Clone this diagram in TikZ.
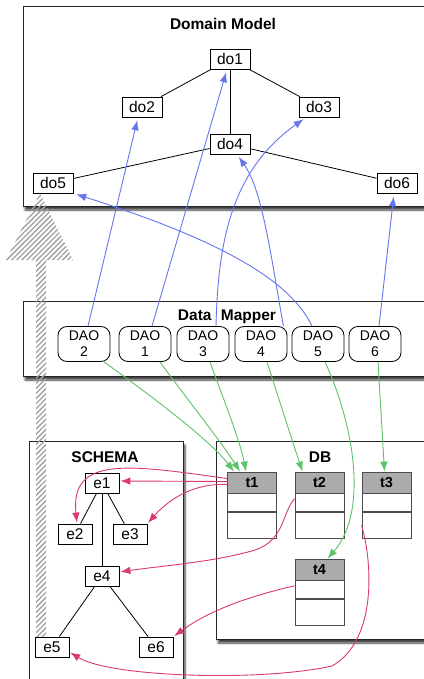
\documentclass[tikz,border=0pt]{standalone}
\usepackage{fontspec}
\setmainfont{Liberation Sans}
\usepackage{xcolor}
\usetikzlibrary{arrows.meta,patterns.meta,positioning,shadows.blur}

\definecolor{mapblue}{RGB}{100,118,238}
\definecolor{mapgreen}{RGB}{94,194,104}
\definecolor{mapred}{RGB}{218,58,108}

\tikzset{
  layer/.style={draw=black!85, fill=white, line width=1pt,
    blur shadow={shadow blur steps=6, shadow xshift=2pt, shadow yshift=-4pt, shadow opacity=75}},
  title/.style={font=\fontsize{15.5}{18}\selectfont\bfseries},
  dobox/.style={draw, fill=white, line width=0.8pt, minimum width=40pt, minimum height=20pt,
    inner sep=0pt, font=\fontsize{15.5}{17}\selectfont},
  ebox/.style={dobox, minimum width=34pt},
  daobox/.style={draw, fill=white, line width=0.8pt, rounded corners=9pt, minimum width=52pt,
    minimum height=35pt, inner sep=0pt, align=center, font=\fontsize{14}{16}\selectfont},
  tabhead/.style={draw=black!70, fill=black!33, line width=0.8pt, minimum width=49pt,
    minimum height=21pt, inner sep=0pt, font=\fontsize{14.5}{16}\selectfont\bfseries},
  tabrow/.style={draw=black!70, fill=white, line width=0.8pt, minimum width=49pt, inner sep=0pt},
  tomodel/.style={draw=mapblue, line width=0.9pt, shorten >=3pt, -{Latex[length=10pt,width=7.5pt]}},
  totable/.style={draw=mapgreen, line width=0.9pt, -{Latex[length=10pt,width=7.5pt]}},
  toschema/.style={draw=mapred, line width=0.9pt, shorten >=1pt, -{Latex[length=10pt,width=7.5pt]}}
}

\begin{document}
\begin{tikzpicture}[x=1pt,y=-1pt]

\useasboundingbox (0,0) rectangle (423,679);

% Layers
\draw[layer] (23,7) rectangle (445,206);
\draw[layer] (23,301) rectangle (445,376);
\draw[layer] (29,441) rectangle (183,700);
\draw[layer] (216,441) rectangle (445,639);

% Hatched arrow
\fill[pattern={Lines[angle=45, distance=3.6pt, line width=1.3pt]}, pattern color=gray!75]
  (36,637) -- (36,260) -- (6,260) -- (40,193) -- (73,260) -- (46,260) -- (46,637) -- cycle;

% Domain Model
\node[title] (dmtitle) at (223,24) {Domain Model};
\node[dobox] (do1) at (230,59) {do1};
\node[dobox] (do2) at (142,107) {do2};
\node[dobox] (do3) at (319,107) {do3};
\node[dobox] (do4) at (230,144) {do4};
\node[dobox] (do5) at (53,183) {do5};
\node[dobox] (do6) at (397,183) {do6};
\draw[line width=0.8pt] (do1) -- (do2);
\draw[line width=0.8pt] (do1) -- (do3);
\draw[line width=0.8pt] (do1) -- (do4);
\draw[line width=0.8pt] (do4) -- (do5);
\draw[line width=0.8pt] (do4) -- (do6);

% Data Mapper
\node[title] (dmaptitle) at (227,317) {Data\hspace{0.6em}Mapper};
\node[daobox] (dao2) at (84,344) {DAO\\2};
\node[daobox] (dao1) at (145,344) {DAO\\1};
\node[daobox] (dao3) at (203,344) {DAO\\3};
\node[daobox] (dao4) at (261,344) {DAO\\4};
\node[daobox] (dao5) at (318,344) {DAO\\5};
\node[daobox] (dao6) at (375,344) {DAO\\6};

% Schema
\node[title] (schtitle) at (105,457) {SCHEMA};
\node[ebox] (e1) at (102,483) {e1};
\node[ebox] (e2) at (75,534) {e2};
\node[ebox] (e3) at (130,534) {e3};
\node[ebox] (e4) at (102,576) {e4};
\node[ebox] (e5) at (52,647) {e5};
\node[ebox] (e6) at (156,647) {e6};
\draw[line width=0.8pt] (e1) -- (e2);
\draw[line width=0.8pt] (e1) -- (e3);
\draw[line width=0.8pt] (e1) -- (e4);
\draw[line width=0.8pt] (e4) -- (e5);
\draw[line width=0.8pt] (e4) -- (e6);

% DB tables
\node[title] (dbtitle) at (320,457) {DB};
\node[tabhead] (t1) at (252,482.5) {t1};
\node[tabrow, minimum height=18pt, below=0pt of t1] (t1a) {};
\node[tabrow, minimum height=26pt, below=0pt of t1a] (t1b) {};
\node[tabhead] (t2) at (319.5,482.5) {t2};
\node[tabrow, minimum height=18pt, below=0pt of t2] (t2a) {};
\node[tabrow, minimum height=26pt, below=0pt of t2a] (t2b) {};
\node[tabhead] (t3) at (386.5,482.5) {t3};
\node[tabrow, minimum height=18pt, below=0pt of t3] (t3a) {};
\node[tabrow, minimum height=26pt, below=0pt of t3a] (t3b) {};
\node[tabhead] (t4) at (319.5,569.5) {t4};
\node[tabrow, minimum height=18pt, below=0pt of t4] (t4a) {};
\node[tabrow, minimum height=26pt, below=0pt of t4a] (t4b) {};

% Mapper -> domain objects
\draw[tomodel] ([xshift=4pt]dao2.north) -- ([xshift=-4pt]do2.south);
\draw[tomodel] ([xshift=7pt]dao1.north) -- ([xshift=-3pt]do1.south);
\draw[tomodel] ([xshift=13pt]dao3.north) .. controls (218,240) and (232,170) .. ([xshift=-13pt]do3.south);
\draw[tomodel] ([xshift=-4pt]dao4.north east) .. controls (270,250) and (262,190) .. ([xshift=7pt]do4.south);
\draw[tomodel] ([xshift=-6pt]dao5.north) .. controls (290,280) and (220,240) .. (do5.south east);
\draw[tomodel] ([xshift=4pt]dao6.north) -- ([xshift=-3pt]do6.south);

% Mapper -> tables
\draw[totable] ([xshift=20pt]dao2.south) .. controls (150,395) and (210,440) .. ([xshift=-18pt]t1.north);
\draw[totable] ([xshift=15pt]dao1.south) .. controls (180,390) and (220,440) .. ([xshift=-12pt]t1.north);
\draw[totable] ([xshift=7pt]dao3.south) .. controls (220,390) and (240,440) .. ([xshift=-6pt]t1.north);
\draw[totable] ([xshift=6pt]dao4.south) .. controls (276,390) and (292,440) .. ([xshift=-17pt]t2.north);
\draw[totable] ([xshift=7pt]dao5.south) .. controls (352,420) and (370,510) .. ([xshift=8pt]t4.north);
\draw[totable] ([xshift=3pt]dao6.south) -- ([xshift=-2pt]t3.north);

% Tables -> schema entities
\draw[toschema] ([yshift=4pt]t1.west) .. controls (130,465) and (70,455) .. ([xshift=2pt]e2.north);
\draw[toschema] ([yshift=1pt]t1.west) -- ([yshift=2pt]e1.east);
\draw[toschema] ([yshift=-2pt]t1.west) .. controls (195,483) and (170,498) .. (e3.north east);
\draw[toschema] ([yshift=4pt]t2a.west) .. controls (282,512) and (285,540) .. (255,550)
  .. controls (215,562) and (160,566) .. ([yshift=4pt]e4.east);
\draw[toschema] ([yshift=4pt]t4a.west) .. controls (250,596) and (210,610) .. (e6.north east);
\draw[toschema] (t3b.west) .. controls (372,560) and (378,640) .. (332,666)
  .. controls (260,682) and (110,677) .. ([yshift=-5pt]e5.east);

\end{tikzpicture}
\end{document}
